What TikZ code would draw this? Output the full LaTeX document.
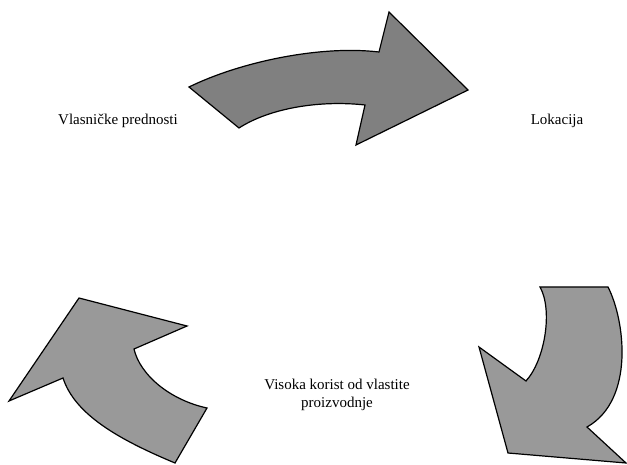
\documentclass[tikz,border=0pt]{standalone}
\usepackage{fontspec}
\setmainfont{Liberation Serif}
\usepackage{tikz}
\usetikzlibrary{positioning}
\definecolor{arrowdk}{gray}{0.50}
\definecolor{arrowlt}{gray}{0.60}
\tikzset{
  cyclearrow/.style = {draw=black, line width=1.2pt, line join=miter},
  cyclelabel/.style = {font=\fontsize{15}{18}\selectfont, align=center, inner sep=0pt},
}
\begin{document}
\begin{tikzpicture}[x=1pt, y=-1pt]
  \useasboundingbox (0,0) rectangle (627,465);
  % top arrow
  \filldraw[cyclearrow, fill=arrowdk] (189,87) .. controls (240,62) and (320,45) .. (379,52)
    -- (389,12) -- (468,90) -- (356,145) -- (365,105)
    .. controls (320,100) and (270,108) .. (239,128) -- cycle;
  % right arrow
  \filldraw[cyclearrow, fill=arrowlt] (540,287) -- (608,287)
    .. controls (625,320) and (635,400) .. (587,427)
    -- (626,463) -- (508,453) -- (479,347) -- (526,381)
    .. controls (545,360) and (553,310) .. (540,287) -- cycle;
  % left arrow
  \filldraw[cyclearrow, fill=arrowlt] (207,408) -- (175,463)
    .. controls (120,440) and (75,415) .. (63,378)
    -- (9,401) -- (79,298) -- (187,326) -- (134,349)
    .. controls (140,375) and (170,400) .. (207,408) -- cycle;
  % labels
  \node[cyclelabel] (vlas) at (118,121) {Vlasničke prednosti};
  \node[cyclelabel] (lok) at (557,121) {Lokacija};
  \node[cyclelabel] (kor) at (337,395) {Visoka korist od vlastite\\proizvodnje};
\end{tikzpicture}
\end{document}
